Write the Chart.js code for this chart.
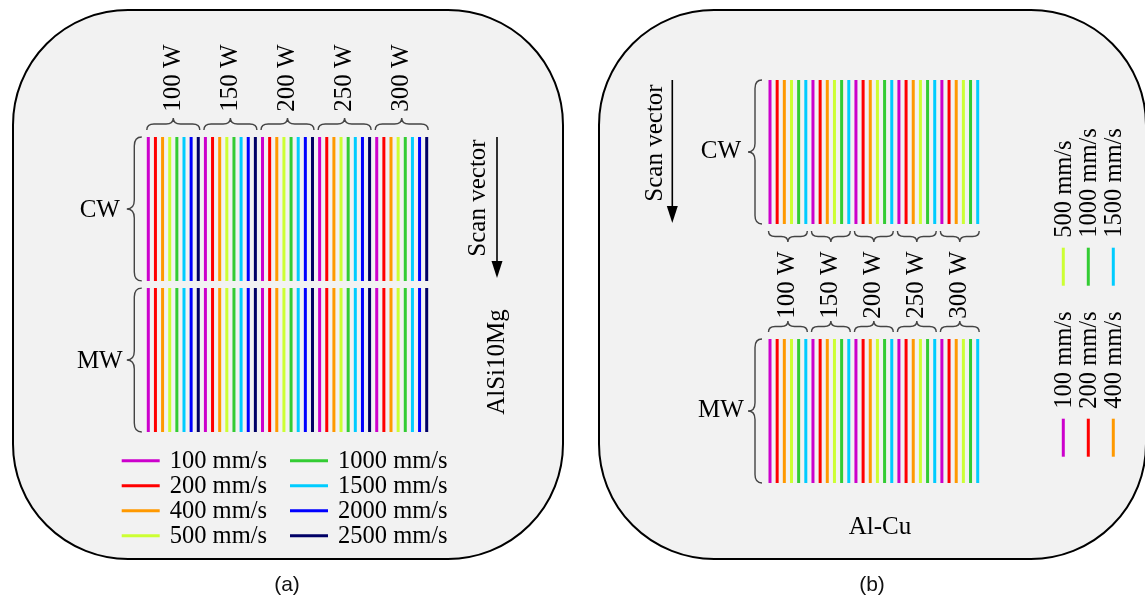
<!DOCTYPE html>
<html>
<head>
<meta charset="utf-8">
<script src="https://cdn.jsdelivr.net/npm/chart.js@4.4.1/dist/chart.umd.min.js"></script>
<style>
  html, body { margin: 0; padding: 0; background: #fff; }
  #wrap { position: relative; width: 1145px; height: 604px; overflow: hidden; }
  #chartA { position: absolute; left: 0; top: 0; }
  #chartB { position: absolute; left: 580px; top: 0; }
</style>
</head>
<body>
<div id="wrap">
  <canvas id="chartA" width="580" height="604"></canvas>
  <canvas id="chartB" width="565" height="604"></canvas>
</div>
<script>
// laser powers (one group of tracks each)
const powers = ['100 W', '150 W', '200 W', '250 W', '300 W'];
// scan speeds, mm/s
const speedsA = [100, 200, 400, 500, 1000, 1500, 2000, 2500];
const speedsB = [100, 200, 400, 500, 1000, 1500];
// laser modes and the scan extent of each track (schematic length units)
const modes = ['CW', 'MW'];
const spanA = [[0, 10], [10.5, 20.5]];
const spanB = [[0, 10], [18, 28]];

const speedColors = {
  100: '#cc00cc', 200: '#ff0000', 400: '#ff9900', 500: '#ccff33',
  1000: '#33cc33', 1500: '#00ccff', 2000: '#0000ff', 2500: '#000066'
};

const SERIF = "'Liberation Serif', 'Times New Roman', serif";

function buildDatasets(speeds, spans) {
  const n = speeds.length;
  return speeds.map((s, k) => {
    const pts = [];
    powers.forEach((p, g) => {
      spans.forEach(sp => {
        const x = g * n + k;
        pts.push({ x: x, y: sp[0] }, { x: x, y: sp[1] }, { x: x, y: null });
      });
    });
    return {
      label: s + ' mm/s',
      data: pts,
      borderColor: speedColors[s],
      borderWidth: 3,
      borderCapStyle: 'butt',
      pointRadius: 0,
      spanGaps: false,
      clip: false
    };
  });
}

function roundRect(ctx, x, y, w, h, r) {
  ctx.beginPath();
  ctx.moveTo(x + r, y);
  ctx.lineTo(x + w - r, y);
  ctx.arcTo(x + w, y, x + w, y + r, r);
  ctx.lineTo(x + w, y + h - r);
  ctx.arcTo(x + w, y + h, x + w - r, y + h, r);
  ctx.lineTo(x + r, y + h);
  ctx.arcTo(x, y + h, x, y + h - r, r);
  ctx.lineTo(x, y + r);
  ctx.arcTo(x, y, x + r, y, r);
  ctx.closePath();
  ctx.fillStyle = '#f2f2f2';
  ctx.fill();
  ctx.lineWidth = 2;
  ctx.strokeStyle = '#000';
  ctx.stroke();
}

// curly brace from (x1,y1) to (x2,y2), tip pushed by d along normal (nx,ny)
function brace(ctx, x1, y1, x2, y2, nx, ny, d) {
  const len = Math.hypot(x2 - x1, y2 - y1);
  const ux = (x2 - x1) / len, uy = (y2 - y1) / len;
  const h = d / 2, r = Math.min(h * 1.2, len / 4);
  const P = (t, s) => [x1 + ux * t + nx * s, y1 + uy * t + ny * s];
  const m = len / 2;
  ctx.beginPath();
  ctx.moveTo(...P(0, 0));
  ctx.quadraticCurveTo(...P(0, h), ...P(r, h));
  ctx.lineTo(...P(m - r, h));
  ctx.quadraticCurveTo(...P(m, h), ...P(m, d));
  ctx.quadraticCurveTo(...P(m, h), ...P(m + r, h));
  ctx.lineTo(...P(len - r, h));
  ctx.quadraticCurveTo(...P(len, h), ...P(len, 0));
  ctx.lineWidth = 1.4;
  ctx.strokeStyle = '#444';
  ctx.stroke();
}

function text(ctx, str, x, y, size, rot, align) {
  ctx.save();
  ctx.translate(x, y);
  if (rot) ctx.rotate(-Math.PI / 2);
  ctx.font = size + 'px ' + SERIF;
  ctx.fillStyle = '#000';
  ctx.textAlign = align || 'center';
  ctx.textBaseline = 'middle';
  ctx.fillText(str, 0, 0);
  ctx.restore();
}

function arrow(ctx, x, y1, y2) {
  ctx.beginPath();
  ctx.moveTo(x, y1);
  ctx.lineTo(x, y2 - 14);
  ctx.lineWidth = 1.6;
  ctx.strokeStyle = '#000';
  ctx.stroke();
  ctx.beginPath();
  ctx.moveTo(x - 5.5, y2 - 17);
  ctx.lineTo(x + 5.5, y2 - 17);
  ctx.lineTo(x, y2);
  ctx.closePath();
  ctx.fillStyle = '#000';
  ctx.fill();
}

function legend(ctx, chart, perCol, colGap) {
  chart.data.datasets.forEach((ds, i) => {
    const lx = Math.floor(i / perCol) * colGap;
    const ly = (i % perCol) * 25;
    ctx.beginPath();
    ctx.moveTo(lx, ly);
    ctx.lineTo(lx + 38, ly);
    ctx.lineWidth = 3;
    ctx.strokeStyle = ds.borderColor;
    ctx.stroke();
    ctx.font = '24.5px ' + SERIF;
    ctx.fillStyle = '#000';
    ctx.textAlign = 'left';
    ctx.textBaseline = 'middle';
    ctx.fillText(ds.label, lx + 48, ly + 1);
  });
}

function caption(ctx, str, x) {
  ctx.font = "21px 'Liberation Sans', Arial, sans-serif";
  ctx.fillStyle = '#111';
  ctx.textAlign = 'center';
  ctx.textBaseline = 'middle';
  ctx.fillText(str, x, 585);
}

const panelA = {
  id: 'panelA',
  beforeDraw(chart) {
    roundRect(chart.ctx, 13, 10, 550, 549, 115);
  },
  afterDraw(chart) {
    const ctx = chart.ctx, xs = chart.scales.x, ys = chart.scales.y;
    const n = speedsA.length;
    powers.forEach((p, g) => {
      const a = xs.getPixelForValue(g * n) - 1.5;
      const b = xs.getPixelForValue(g * n + n - 1) + 1.5;
      const top = ys.getPixelForValue(spanA[0][0]) - 7;
      brace(ctx, a, top, b, top, 0, -1, 12);
      text(ctx, p, (a + b) / 2, 78, 25, true);
    });
    const bx = xs.left - 6.5;
    modes.forEach((m, i) => {
      const y1 = ys.getPixelForValue(spanA[i][0]);
      const y2 = ys.getPixelForValue(spanA[i][1]);
      brace(ctx, bx, y1, bx, y2, -1, 0, 15);
      text(ctx, m, bx - 42, (y1 + y2) / 2 + 1, 25, false);
    });
    arrow(ctx, 497, ys.getPixelForValue(0), 278);
    text(ctx, 'Scan vector', 478, 198, 25, true);
    text(ctx, 'AlSi10Mg', 497, 362, 25, true);
    ctx.save();
    ctx.translate(121.7, 460.7);
    legend(ctx, chart, 4, 168.3);
    ctx.restore();
    caption(ctx, '(a)', 287);
  }
};

const panelB = {
  id: 'panelB',
  beforeDraw(chart) {
    roundRect(chart.ctx, 19, 10, 547, 549, 115);
  },
  afterDraw(chart) {
    const ctx = chart.ctx, xs = chart.scales.x, ys = chart.scales.y;
    const n = speedsB.length;
    powers.forEach((p, g) => {
      const a = xs.getPixelForValue(g * n) - 1.5;
      const b = xs.getPixelForValue(g * n + n - 1) + 1.5;
      const low = ys.getPixelForValue(spanB[0][1]) + 7;
      const up = ys.getPixelForValue(spanB[1][0]) - 7;
      brace(ctx, a, low, b, low, 0, 1, 11);
      brace(ctx, a, up, b, up, 0, -1, 11);
      text(ctx, p, (a + b) / 2, 285, 25, true);
    });
    const bx = xs.left - 8;
    modes.forEach((m, i) => {
      const y1 = ys.getPixelForValue(spanB[i][0]);
      const y2 = ys.getPixelForValue(spanB[i][1]);
      brace(ctx, bx, y1, bx, y2, -1, 0, 14);
      text(ctx, m, bx - 41, (y1 + y2) / 2 - 1, 25, false);
    });
    arrow(ctx, 92.3, ys.getPixelForValue(0), 223);
    text(ctx, 'Scan vector', 75, 143, 25, true);
    text(ctx, 'Al-Cu', 300, 527, 25, false);
    ctx.save();
    ctx.translate(483.3, 456.7);
    ctx.rotate(-Math.PI / 2);
    legend(ctx, chart, 3, 171);
    ctx.restore();
    caption(ctx, '(b)', 292);
  }
};

function makeChart(id, speeds, spans, pad, plugin) {
  const n = speeds.length;
  return new Chart(document.getElementById(id), {
    type: 'line',
    data: { datasets: buildDatasets(speeds, spans) },
    options: {
      responsive: false,
      animation: false,
      events: [],
      layout: { padding: pad },
      plugins: { legend: { display: false }, tooltip: { enabled: false } },
      scales: {
        x: { type: 'linear', min: 0, max: powers.length * n - 1, display: false },
        y: { type: 'linear', min: spans[0][0], max: spans[spans.length - 1][1], reverse: true, display: false }
      }
    },
    plugins: [plugin]
  });
}

makeChart('chartA', speedsA, spanA, { left: 148.3, right: 153.3, top: 137, bottom: 172 }, panelA);
makeChart('chartB', speedsB, spanB, { left: 190, right: 167.3, top: 80, bottom: 121 }, panelB);
</script>
</body>
</html>
